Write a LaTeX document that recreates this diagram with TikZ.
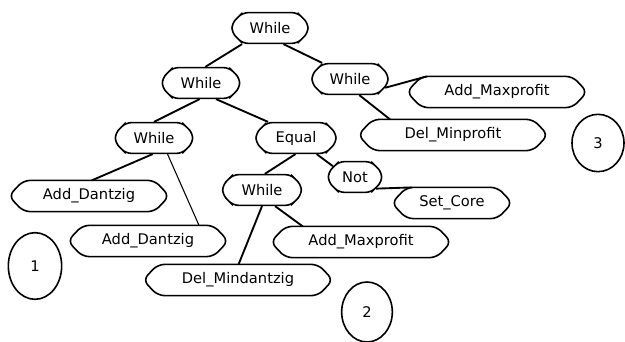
\documentclass[tikz,border=0pt]{standalone}
\usepackage{fontspec}
\newfontfamily\treefont{DejaVu Sans}
\usetikzlibrary{shapes.misc,shapes.geometric}
\tikzset{
    % operator nodes
    op/.style={
           chamfered rectangle,
           chamfered rectangle xsep=5pt,
           rounded corners=4pt,
           draw,
           line width=1.2pt,
           minimum height=23pt,
           inner sep=1pt,
           font=\treefont\fontsize{11}{13}\selectfont},
    % leaf nodes (outline drawn afterwards)
    leaf/.style={
           minimum height=23pt,
           inner sep=1pt,
           font=\treefont\fontsize{11}{13}\selectfont},
    leafline/.style={
           line width=1.2pt,
           rounded corners=5pt},
    % numbered tags
    tag/.style={
           ellipse,
           draw,
           line width=1.2pt,
           inner sep=0pt,
           font=\treefont\fontsize{11}{13}\selectfont},
    link/.style={line width=1.4pt}
}
\begin{document}
\begin{tikzpicture}[x=0.75pt,y=-0.75pt]

\useasboundingbox (0,0) rectangle (625,342);

% operators
\node [op, minimum width=57pt] (root) at (270, 28) {While};
\node [op, minimum width=58pt] (wl)   at (201, 83) {While};
\node [op, minimum width=57pt] (wr)   at (350, 79) {While};
\node [op, minimum width=58pt] (wll)  at (154,138) {While};
\node [op, minimum width=60pt] (eq)   at (296,138) {Equal};
\node [op, minimum width=59pt] (weq)  at (262,190) {While};
\node [op, minimum width=40pt] (nt)   at (355,177) {Not};

% leaves
\node [leaf, minimum width=135pt] (amtop) at (497, 92) {Add\_Maxprofit};
\node [leaf, minimum width=142pt] (dmp)   at (453,135) {Del\_Minprofit};
\node [leaf, minimum width=120pt] (ada)   at ( 89,196) {Add\_Dantzig};
\node [leaf, minimum width=120pt] (adb)   at (148,241) {Add\_Dantzig};
\node [leaf, minimum width=90pt]  (sc)    at (452,203) {Set\_Core};
\node [leaf, minimum width=135pt] (ambot) at (361,242) {Add\_Maxprofit};
\node [leaf, minimum width=142pt] (dmd)   at (238,280) {Del\_Mindantzig};

\foreach \n in {amtop,dmp,ada,adb,sc,ambot,dmd}
  \draw [leafline] (\n.west) -- ([xshift=11pt]\n.north west)
        -- ([xshift=-11pt]\n.north east) -- (\n.east)
        -- ([xshift=-11pt]\n.south east) -- ([xshift=11pt]\n.south west) -- cycle;

% tags
\node [tag, minimum width=40pt, minimum height=50pt] (t1) at ( 35,266) {1};
\node [tag, minimum width=38pt, minimum height=45pt] (t2) at (367,312) {2};
\node [tag, minimum width=39pt, minimum height=43pt] (t3) at (598,143) {3};

% links
\draw [link] (root.210) -- (wl.75);
\draw [link] (root.-50) -- (wr.150);
\draw [link] (wl.-95)   -- (wll.90);
\draw [link] (wl.-47)   -- (eq.150);
\draw [link] (wr.-14)   -- ([xshift=15pt]amtop.north west);
\draw [link] (wr.-60)   -- ([xshift=24pt]dmp.north west);
\draw [link] (wll.-95)  -- (ada.80);
\draw [thick] (wll.-50) -- (adb.17);
\draw [link] (eq.-92)   -- (weq.80);
\draw [link] (eq.-38)   -- (nt.154);
\draw [link] (nt.-29)   -- ([xshift=15pt]sc.north west);
\draw [link] (weq.-90)  -- (dmd.88);
\draw [link] (weq.-51)  -- (ambot.165);

\end{tikzpicture}
\end{document}
